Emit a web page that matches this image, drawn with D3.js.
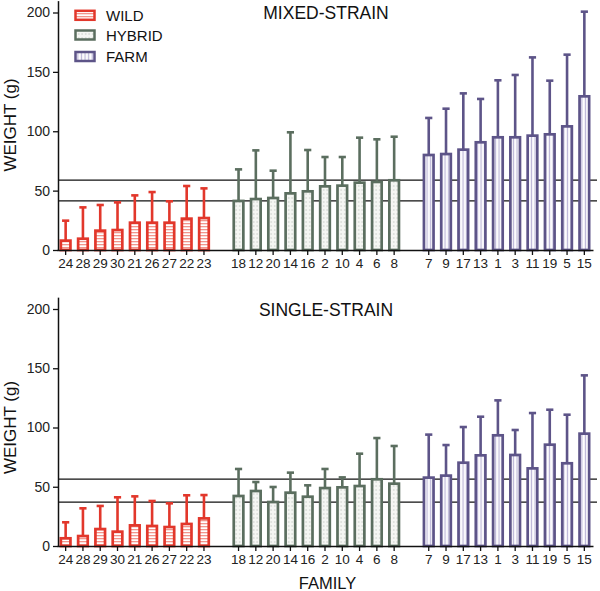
<!DOCTYPE html>
<html>
<head>
<meta charset="utf-8">
<script src="https://cdn.jsdelivr.net/npm/d3@7"></script>
<style>
  html, body { margin: 0; padding: 0; background: #fff; }
  svg { display: block; font-family: "Liberation Sans", Arial, Helvetica, sans-serif; }
</style>
</head>
<body>
<svg id="chart" width="600" height="591"></svg>
<script>
// ---------- DATA ----------
const wildFamilies   = ["24","28","29","30","21","26","27","22","23"];
const hybridFamilies = ["18","12","20","14","16","2","10","4","6","8"];
const farmFamilies   = ["7","9","17","13","1","3","11","19","5","15"];

// MIXED-STRAIN: mean weight and top of error bar
const mixedWildMean    = [7.9, 9.5, 16.3, 16.8, 23, 23, 23, 26.4, 26.9];
const mixedWildTop     = [24.7, 35.9, 37.9, 40.1, 46, 48.8, 41, 53.9, 51.9];
const mixedHybridMean  = [41.3, 42.9, 43.8, 47.7, 49.4, 53.6, 54.2, 56.7, 57.3, 58.7];
const mixedHybridTop   = [67.9, 83.9, 66.8, 99.1, 84.2, 78.3, 78.3, 94.6, 93.2, 95.4];
const mixedFarmMean    = [80, 80.8, 84.5, 90.7, 94.9, 94.9, 96.3, 97.4, 104.1, 129.4];
const mixedFarmTop     = [111.2, 119, 131.9, 127.2, 142.9, 147.4, 162.2, 142.6, 164.5, 200.7];
const mixedRefLines    = [58.9, 41.3];

// SINGLE-STRAIN
const singleWildMean   = [6.5, 8.4, 14.3, 12.1, 17.4, 16.9, 16, 18.6, 23.3];
const singleWildTop    = [20, 31.8, 33.8, 41.1, 41.9, 38, 36, 42.8, 43];
const singleHybridMean = [42.2, 46.4, 37.1, 45, 41.6, 48.9, 49.5, 50.6, 56.3, 52.6];
const singleHybridTop  = [65, 54, 49.8, 61.9, 51.2, 65, 57.9, 77.9, 91.1, 84.4];
const singleFarmMean   = [57.7, 59.4, 70.3, 76.5, 93.4, 76.8, 65.5, 85.5, 69.8, 94.8];
const singleFarmTop    = [94, 85.2, 100.4, 109.1, 122.9, 97.9, 112.2, 115, 110.8, 144];
const singleRefLines   = [56.5, 37.1];

const yTicks = [0, 50, 100, 150, 200];
const groupNames = ["WILD", "HYBRID", "FARM"];
const panelTitles = ["MIXED-STRAIN", "SINGLE-STRAIN"];

// ---------- STYLE ----------
const colors = { WILD: "#e2372b", HYBRID: "#5b6e5f", FARM: "#5d5488" };
const svg = d3.select("#chart");

// patterns
const defs = svg.append("defs");
const pw = defs.append("pattern").attr("id", "pat-WILD").attr("patternUnits", "userSpaceOnUse")
  .attr("width", 6).attr("height", 3);
pw.append("rect").attr("width", 6).attr("height", 3).attr("fill", "#fff");
pw.append("rect").attr("y", 1).attr("width", 6).attr("height", 1.3).attr("fill", "#f2958c");

const ph = defs.append("pattern").attr("id", "pat-HYBRID").attr("patternUnits", "userSpaceOnUse")
  .attr("width", 3.5).attr("height", 4);
ph.append("rect").attr("width", 3.5).attr("height", 4).attr("fill", "#f5f6f3");
ph.append("rect").attr("x", 1.2).attr("y", 1.5).attr("width", 1).attr("height", 1).attr("fill", "#a9b2aa");

const pf = defs.append("pattern").attr("id", "pat-FARM").attr("patternUnits", "userSpaceOnUse")
  .attr("width", 3.6).attr("height", 6);
pf.append("rect").attr("width", 3.6).attr("height", 6).attr("fill", "#fff");
pf.append("rect").attr("x", 1.6).attr("width", 1.3).attr("height", 6).attr("fill", "#bdb7d8");

// ---------- SCALES ----------
const slots = [...wildFamilies, "gap1", ...hybridFamilies, "gap2", ...farmFamilies];
const x = d3.scaleBand().domain(slots).range([57, 57 + 31 * 17.29]).padding(0);
const xc = f => x(f) + x.bandwidth() / 2;
const barW = 9.6;

function buildRows(meanW, topW, meanH, topH, meanF, topF) {
  const rows = [];
  wildFamilies.forEach((f, i) => rows.push({ fam: f, group: "WILD", mean: meanW[i], top: topW[i] }));
  hybridFamilies.forEach((f, i) => rows.push({ fam: f, group: "HYBRID", mean: meanH[i], top: topH[i] }));
  farmFamilies.forEach((f, i) => rows.push({ fam: f, group: "FARM", mean: meanF[i], top: topF[i] }));
  return rows;
}

const panels = [
  { title: panelTitles[0], y0: 250, y200: 12.5, titleY: 18.5,
    rows: buildRows(mixedWildMean, mixedWildTop, mixedHybridMean, mixedHybridTop, mixedFarmMean, mixedFarmTop),
    refs: mixedRefLines, ylabY: 125 },
  { title: panelTitles[1], y0: 546, y200: 309, titleY: 315.5,
    rows: buildRows(singleWildMean, singleWildTop, singleHybridMean, singleHybridTop, singleFarmMean, singleFarmTop),
    refs: singleRefLines, ylabY: 427.5 }
];

panels.forEach(p => {
  const per = (p.y0 - p.y200) / 200;
  const y = d3.scaleLinear().domain([0, 210]).range([p.y0, p.y0 - 210 * per]);
  const g = svg.append("g");

  // reference lines (behind bars)
  g.selectAll(".ref").data(p.refs).enter().append("line")
    .attr("x1", 58).attr("x2", 597)
    .attr("y1", d => y(d)).attr("y2", d => y(d))
    .attr("stroke", "#111").attr("stroke-width", 1.3);

  // error bars
  const eb = g.selectAll(".eb").data(p.rows).enter().append("g");
  eb.append("line")
    .attr("x1", d => xc(d.fam)).attr("x2", d => xc(d.fam))
    .attr("y1", d => y(d.mean)).attr("y2", d => y(d.top))
    .attr("stroke", d => colors[d.group]).attr("stroke-width", 2.6);
  eb.append("line")
    .attr("x1", d => xc(d.fam) - 3.6).attr("x2", d => xc(d.fam) + 3.6)
    .attr("y1", d => y(d.top)).attr("y2", d => y(d.top))
    .attr("stroke", d => colors[d.group]).attr("stroke-width", 2.6);

  // bars
  g.selectAll(".bar").data(p.rows).enter().append("rect")
    .attr("x", d => xc(d.fam) - barW / 2).attr("width", barW)
    .attr("y", d => y(d.mean)).attr("height", d => y(0) - y(d.mean))
    .attr("fill", d => `url(#pat-${d.group})`)
    .attr("stroke", d => colors[d.group]).attr("stroke-width", 2.7);

  // y axis
  const ya = g.append("g").attr("transform", "translate(58,0)")
    .call(d3.axisLeft(y).tickValues(yTicks).tickSize(5).tickSizeOuter(0).tickPadding(3));
  ya.select(".domain").attr("stroke", "#111").attr("stroke-width", 1.5);
  ya.selectAll(".tick line").attr("stroke", "#111").attr("stroke-width", 1.3);
  ya.selectAll(".tick text").attr("font-size", 14).attr("fill", "#222")
    .attr("font-family", "Liberation Sans, Arial, sans-serif");

  // x axis
  const famSlots = slots.filter(s => !s.startsWith("gap"));
  const xa = g.append("g").attr("transform", `translate(0,${p.y0})`)
    .call(d3.axisBottom(x).tickValues(famSlots).tickSize(5).tickSizeOuter(0).tickPadding(3));
  xa.select(".domain").attr("stroke", "#111").attr("stroke-width", 1.5);
  xa.selectAll(".tick line").attr("stroke", "#111").attr("stroke-width", 1.3);
  xa.selectAll(".tick text").attr("font-size", 13.5).attr("fill", "#222")
    .attr("font-family", "Liberation Sans, Arial, sans-serif");

  // title
  svg.append("text").attr("x", 326).attr("y", p.titleY).attr("text-anchor", "middle")
    .attr("font-size", 17.5).attr("fill", "#111").text(p.title);

  // y label
  svg.append("text").attr("transform", `translate(16,${p.ylabY}) rotate(-90)`)
    .attr("text-anchor", "middle").attr("font-size", 17).attr("fill", "#111").text("WEIGHT (g)");
});

// x label
svg.append("text").attr("x", 327.5).attr("y", 588.5).attr("text-anchor", "middle")
  .attr("font-size", 16.5).attr("fill", "#111").text("FAMILY");

// legend
const legY = [15.3, 35, 56.5];
const leg = svg.append("g");
groupNames.forEach((gname, i) => {
  leg.append("rect").attr("x", 75.5).attr("y", legY[i] - 4.5).attr("width", 19).attr("height", 9)
    .attr("fill", `url(#pat-${gname})`).attr("stroke", colors[gname]).attr("stroke-width", 2.5);
  leg.append("text").attr("x", 106).attr("y", legY[i] + 5.5).attr("font-size", 15)
    .attr("fill", "#111").text(gname);
});
</script>
</body>
</html>
